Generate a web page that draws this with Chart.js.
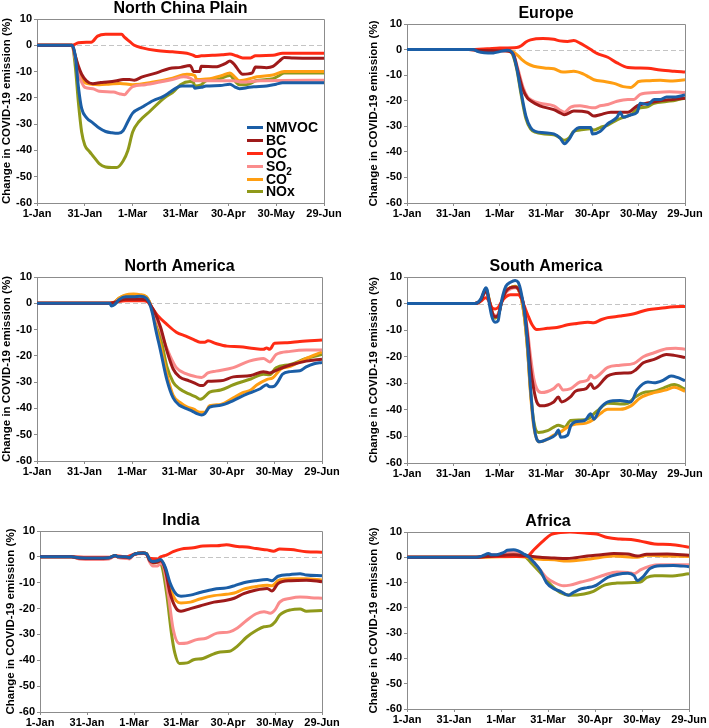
<!DOCTYPE html>
<html>
<head>
<meta charset="utf-8">
<script src="https://cdn.jsdelivr.net/npm/chart.js@4.4.1/dist/chart.umd.min.js"></script>
<style>
  body { margin: 0; background: #fff; width: 709px; height: 728px; position: relative; overflow: hidden; font-family: "Liberation Sans", Arial, sans-serif; }
  canvas { position: absolute; }
  #legend { position: absolute; left: 247px; top: 121px; font-weight: bold; font-size: 14px; color: #000; }
  #legend .row { display: flex; align-items: center; height: 12.9px; line-height: 12.9px; }
  #legend .swatch { width: 16px; height: 3px; margin-right: 3px; }
  #legend sub { font-size: 10px; line-height: 0; vertical-align: -4px; }
</style>
</head>
<body>
<canvas id="c1" width="354" height="228" style="left:0;top:-1px"></canvas>
<canvas id="c2" width="355" height="223" style="left:354px;top:4px"></canvas>
<canvas id="c3" width="354" height="228" style="left:0;top:257px"></canvas>
<canvas id="c4" width="355" height="230" style="left:354px;top:257px"></canvas>
<canvas id="c5" width="354" height="225" style="left:0;top:511px"></canvas>
<canvas id="c6" width="355" height="221" style="left:354px;top:512px"></canvas>
<div id="legend"></div>
<script>
// species and colours
const species = ["NMVOC", "BC", "OC", "SO2", "CO", "NOx"];
const speciesLabels = ["NMVOC", "BC", "OC", "SO<sub>2</sub>", "CO", "NOx"];
const colors = ["#1b5ea6", "#9e1a1a", "#ff2b14", "#fa8c8c", "#ff9e12", "#8f991a"];

// x ticks: day of year 2020 (0 = 1-Jan)
const tickDays = [0, 30, 60, 90, 120, 150, 180];
const tickLabels = ["1-Jan", "31-Jan", "1-Mar", "31-Mar", "30-Apr", "30-May", "29-Jun"];

// ---- North China Plain: [day, % change]
const ncpNMVOC = [[0,0],[22,0],[24,-4],[26,-16],[28,-24],[31,-27.5],[35,-29.5],[39,-31.5],[43,-32.8],[47,-33.3],[51,-33.5],[54,-32.5],[57,-29],[60,-25.8],[66,-23.5],[73,-21],[79,-19.5],[83,-18],[88,-16],[91,-15.5],[98,-15.5],[99,-16.3],[103,-16],[106,-15.5],[115,-15.3],[121,-14.8],[124,-15.8],[127,-16.5],[133,-16],[136,-15.8],[144,-15.5],[150,-14.8],[154,-14.3],[165,-14.3],[180,-14.3]];
const ncpBC = [[0,0],[22,0],[24,-4],[26,-8],[28,-11],[31,-13.5],[35,-14.6],[40,-14.2],[44,-14],[50,-13.5],[54,-13],[58,-13],[61,-13.3],[66,-12],[75,-10.5],[83,-8.8],[90,-8.4],[96,-7.7],[97,-8.5],[98,-10],[102,-10],[103,-8],[112,-8.2],[118,-7],[121,-6],[124,-7.5],[127,-10],[129,-11],[135,-10.5],[137,-8.3],[144,-8.5],[148,-8],[152,-6],[155,-4.6],[161,-4.8],[180,-4.9]];
const ncpOC = [[0,0],[22,0],[26,1],[31,1.2],[34,1.2],[38,3.5],[43,4.2],[53,4.2],[55,3],[58,1.5],[61,0],[66,-1],[75,-2],[85,-2.5],[94,-3],[98,-3.8],[100,-4.3],[103,-4],[110,-3.8],[116,-3.6],[121,-3.3],[125,-4],[129,-4.8],[134,-4.8],[137,-4],[148,-3.8],[154,-3],[180,-3]];
const ncpSO2 = [[0,0],[22,0],[24,-5],[26,-11],[28,-14],[30,-16],[35,-16.5],[39,-17.5],[48,-17.8],[52,-18.5],[55,-18.8],[57,-17.5],[60,-15.7],[68,-15],[77,-14],[85,-13],[92,-12],[96,-12.5],[99,-13.5],[110,-13.5],[123,-13.5],[129,-14],[140,-13.5],[180,-13.3]];
const ncpCO = [[0,0],[22,0],[24,-4],[26,-9],[28,-12.5],[31,-14.5],[39,-15],[46,-14.7],[52,-14.5],[60,-15],[73,-14],[85,-12.5],[94,-11],[99,-11.5],[100,-13],[106,-12.8],[110,-12.5],[116,-11.5],[121,-10.5],[124,-12],[127,-13.5],[135,-12.5],[138,-12],[148,-11.3],[155,-10],[180,-10]];
const ncpNOx = [[0,0],[22,0],[24,-8],[26,-22],[28,-33],[30,-38],[33,-40.5],[35,-42],[39,-45],[43,-46.3],[47,-46.5],[50,-46.5],[54,-44],[57,-40],[60,-33],[64,-29],[71,-25],[77,-21.5],[81,-19.5],[85,-18],[90,-15],[96,-13.8],[98,-14],[99,-15.5],[103,-15],[106,-13.5],[113,-13],[121,-11.5],[124,-13.5],[127,-15],[131,-15],[134,-14.5],[137,-13.5],[148,-12.7],[152,-11.5],[155,-10.5],[180,-10.5]];

// ---- Europe
const euNMVOC = [[0,0],[43,0],[46,-0.8],[50,-1.2],[56,-1.3],[60,-0.8],[65,-0.3],[68,-1],[71,-7],[74,-17],[77,-26],[80,-30.5],[83,-32],[89,-32.5],[95,-33],[99,-34.5],[102,-36.8],[105,-35],[108,-32],[112,-30.5],[119,-30.5],[120,-33],[125,-32],[130,-29],[136,-26.5],[138,-24.5],[140,-26.5],[145,-25.5],[149,-24.5],[151,-21],[156,-21.5],[160,-19.5],[164,-19.5],[168,-18.5],[174,-18.5],[180,-17.8]];
const euBC = [[0,0],[40,0],[45,-0.3],[60,-0.5],[66,-0.7],[69,-2],[72,-9],[75,-15.5],[78,-19],[80,-20],[86,-22],[95,-23.5],[100,-25],[102,-25.5],[108,-24],[117,-24.5],[121,-26],[125,-25.5],[132,-24.5],[143,-24.5],[149,-22],[155,-21],[164,-20],[172,-19.5],[180,-19]];
const euOC = [[0,0],[40,0],[52,0.3],[60,0.6],[71,0.8],[74,1.5],[77,3],[80,3.8],[88,4.3],[95,4],[99,3.4],[104,3.2],[108,3.5],[112,2.5],[115,1.5],[119,0],[123,-1.5],[130,-3],[136,-5.2],[143,-7],[149,-7.2],[156,-7.3],[164,-8],[173,-8.5],[180,-8.8]];
const euSO2 = [[0,0],[60,0],[66,-0.5],[69,-2],[72,-8],[75,-14.5],[78,-18.5],[80,-19.5],[86,-21],[95,-22],[100,-24],[102,-24.5],[106,-22.5],[112,-22],[117,-22.5],[121,-22.8],[125,-22],[130,-21.5],[136,-20.2],[143,-19.5],[147,-19.5],[151,-17.5],[160,-16.8],[170,-16.5],[180,-16.8]];
const euCO = [[0,0],[60,0],[63,-0.2],[66,-0.5],[69,-1],[72,-2.5],[74,-3.7],[78,-5.5],[82,-6.5],[89,-7.2],[95,-7.5],[101,-8.8],[108,-8.5],[114,-9.5],[118,-10.8],[121,-11.8],[128,-12.5],[134,-13.2],[140,-14.5],[145,-14.8],[148,-13.5],[150,-12.5],[156,-12.2],[164,-12],[172,-12.3],[180,-11.8]];
const euNOx = [[0,0],[58,0],[65,-0.3],[68,-1.5],[71,-7.5],[74,-18],[77,-27],[80,-31],[83,-32.3],[89,-33],[95,-33.3],[99,-34.5],[102,-35.5],[105,-34.5],[108,-32],[112,-31.5],[119,-31],[121,-31.5],[125,-30.5],[130,-29.5],[136,-27.5],[140,-26.5],[145,-25.5],[150,-23],[155,-22.5],[160,-21],[168,-20.3],[174,-19.8],[180,-19]];

// ---- North America
const naNMVOC = [[0,0],[46,0],[47,-1],[49,-0.5],[52,1.5],[56,2.5],[61,2.5],[65,2.7],[69,2],[71,0],[73,-4],[75,-10],[78,-18],[82,-29],[86,-36],[90,-38.8],[94,-40],[98,-41],[101,-42],[104,-42.5],[106,-42],[109,-39.5],[116,-38.8],[124,-37],[129,-35.5],[134,-34.2],[141,-32.5],[145,-31],[147,-31.8],[150,-31.5],[152,-30],[155,-27],[160,-26],[166,-25.7],[170,-24.2],[175,-23],[180,-22.5]];
const naBC = [[0,0],[46,0],[49,0.3],[52,1],[56,1.5],[61,1.5],[66,1.5],[70,1],[72,-1],[74,-3],[78,-9],[82,-18],[86,-25],[90,-28],[96,-29.5],[100,-30.5],[103,-31.3],[105,-31.3],[108,-29.7],[116,-29.5],[124,-28],[135,-27.5],[143,-26],[147,-26.5],[151,-25.5],[160,-23.5],[170,-22],[180,-21.3]];
const naOC = [[0,0],[46,0],[50,0.5],[56,1],[62,1],[67,1],[70,0.5],[73,-2],[76,-4.5],[82,-8],[88,-11],[94,-12.5],[99,-13.8],[103,-14.8],[106,-14.8],[108,-14.3],[113,-15.3],[120,-16.3],[128,-16.5],[137,-17.2],[143,-17.5],[145,-17],[147,-17.5],[150,-15.2],[158,-15],[166,-14.5],[180,-14]];
const naSO2 = [[0,0],[46,0],[49,0.3],[52,1.5],[56,2],[61,2],[66,2],[70,1],[72,-1],[75,-5],[78,-10],[80,-14],[84,-20],[88,-24.5],[94,-26.8],[101,-28],[104,-28.2],[108,-26.5],[113,-25.8],[124,-24.5],[134,-22],[143,-21],[147,-22.3],[151,-19.5],[160,-18.3],[170,-17.8],[180,-17.8]];
const naCO = [[0,0],[46,0],[49,0.5],[52,2],[56,3.2],[61,3.5],[65,3.3],[69,2.5],[71,0.5],[73,-3],[75,-9],[78,-16],[82,-27],[86,-35],[91,-38],[95,-39.5],[99,-40.3],[103,-41.5],[106,-41.5],[109,-39],[116,-38.5],[124,-36],[130,-34],[135,-33],[139,-31],[145,-29],[149,-28.3],[154,-25],[160,-24],[170,-21],[180,-18.5]];
const naNOx = [[0,0],[46,0],[49,0.5],[52,2],[56,3],[61,3.2],[65,3],[69,2.5],[71,0.5],[73,-3],[75,-8],[78,-13],[82,-24],[86,-30],[90,-32.5],[96,-34.5],[100,-35.5],[103,-36.5],[105,-36],[109,-33.8],[116,-33],[124,-31],[135,-28.8],[143,-27],[147,-27.2],[151,-24.5],[160,-23.3],[170,-21],[180,-19.5]];

// ---- South America
const saNMVOC = [[0,0],[44,0],[46,0.5],[48,2],[50,5],[51,6],[52,5],[53,1],[55,-5],[57,-7],[59,-6.5],[60,-3],[62,3],[64,6.5],[67,8],[70,8.7],[72,8],[74,4],[76,-3],[78,-15],[80,-32],[82,-45],[84,-51],[86,-52],[91,-51],[96,-49.5],[98,-47.6],[99.5,-50.3],[104,-49.5],[106,-46],[109,-44.5],[115,-44],[119,-41.5],[121,-43.5],[125,-39.5],[130,-37],[138,-36.5],[145,-37],[149,-32.5],[156,-29.5],[160,-29.8],[166,-28.8],[171,-27.3],[175,-27.8],[180,-29]];
const saBC = [[0,0],[44,0],[48,1.5],[50,4],[51,5],[52,4],[55,-3],[57,-5],[59,-4.5],[61,0],[64,4.5],[67,6],[70,6.2],[72,5.5],[74,3],[76,-2],[78,-12],[80,-24],[82,-32],[84,-37],[87,-38.5],[95,-37],[98,-35.2],[100,-37],[106,-35],[109,-33],[116,-32],[119,-30.2],[121,-32],[130,-27.2],[138,-26.2],[145,-26],[148,-25],[153,-22.3],[160,-21],[168,-19.2],[173,-19.5],[180,-20.3]];
const saOC = [[0,0],[44,0],[48,1],[50,2],[51,2.2],[53,1],[55,-1.5],[57,-2],[59,-1.5],[61,0.5],[64,2.5],[67,3.3],[72,3.3],[74,2],[76,-1],[78,-4],[81,-8],[84,-9.8],[91,-9.3],[97,-9],[104,-8],[110,-7.5],[117,-7],[121,-7.2],[126,-6],[130,-5.3],[138,-4.7],[147,-3.8],[156,-2.3],[164,-1.8],[173,-1.2],[180,-1.1]];
const saSO2 = [[0,0],[44,0],[48,1.5],[50,4],[51,4.5],[52,3.5],[55,-3],[57,-4.5],[59,-4],[61,0],[64,4],[67,5.5],[70,6],[72,5.5],[74,3],[76,-2],[78,-10],[80,-20],[82,-28],[84,-32],[87,-33.5],[95,-32],[98,-30.5],[101,-32.5],[106,-32],[112,-29.5],[117,-28.8],[119,-27],[121,-28],[130,-24],[138,-23.2],[147,-22.5],[153,-20],[160,-18.5],[168,-17],[174,-16.8],[180,-17.2]];
const saCO = [[0,0],[44,0],[48,1.5],[50,4.5],[51,5],[52,4],[55,-3],[57,-5],[59,-4.5],[61,0],[64,4.5],[67,6],[70,6.3],[72,5.5],[74,2],[76,-5],[78,-17],[80,-34],[82,-46],[84,-51],[86,-52],[91,-51],[95,-49.5],[99,-48.5],[104,-46.5],[108,-45.5],[116,-45],[121,-43.5],[125,-41.5],[130,-39.8],[138,-39.8],[145,-38.5],[151,-35.5],[160,-33.5],[168,-32.5],[173,-31.5],[180,-33]];
const saNOx = [[0,0],[44,0],[48,1.5],[50,4.5],[51,5.5],[52,4.5],[55,-3],[57,-5.5],[59,-4.5],[61,0],[64,4.5],[67,6],[70,6.5],[72,5.5],[74,2],[76,-5],[78,-17],[80,-33],[82,-44],[85,-48.5],[91,-47.8],[95,-46.5],[98,-45.8],[102,-46.5],[106,-44],[112,-43.8],[117,-43.5],[121,-41.5],[124,-40],[130,-37.5],[138,-37.8],[143,-37.5],[147,-35.5],[153,-33.5],[160,-33],[166,-31.8],[173,-30.5],[180,-32.2]];

// ---- India
const inNMVOC = [[0,0],[20,0],[25,-0.3],[35,-0.4],[44,-0.3],[48,0.5],[50,0],[55,0],[57,-0.3],[60,1],[66,1.5],[68,1.2],[70,-1],[72,-1.8],[75,-1.5],[77,-1],[80,-4],[83,-10],[87,-14.5],[90,-15.2],[96,-14.8],[102,-13.8],[111,-12.5],[119,-12],[124,-11.2],[130,-10],[138,-9.2],[145,-8.8],[148,-9.2],[152,-7.5],[160,-6.8],[166,-6.5],[170,-7],[180,-7.3]];
const inBC = [[0,0],[20,0],[25,-0.5],[35,-0.6],[44,-0.4],[48,0.4],[50,0],[55,-0.2],[57,-0.4],[60,1],[66,1.5],[68,1.2],[70,-1.5],[72,-2.2],[75,-2],[77,-1.5],[80,-5],[83,-14],[87,-20],[90,-21],[96,-20],[102,-19],[111,-17.5],[119,-16.8],[124,-16],[130,-14.2],[138,-12.8],[145,-12.2],[148,-13.2],[152,-10.3],[160,-9.2],[170,-9],[180,-9.6]];
const inOC = [[0,0],[20,0],[30,-0.2],[44,-0.2],[48,0.4],[55,0],[60,1],[66,1.5],[68,1],[70,-0.5],[75,-0.8],[77,0],[81,0.8],[85,2],[90,3],[98,3.5],[104,4.2],[113,4.3],[119,4.7],[126,4],[132,3.8],[138,3.2],[145,2.7],[149,2.2],[153,3],[160,2.8],[170,2],[180,1.8]];
const inSO2 = [[0,0],[20,0],[25,-0.8],[35,-1],[44,-0.8],[48,0.3],[50,-0.3],[55,-0.6],[57,-0.8],[60,0.8],[66,1.3],[68,1],[70,-2],[72,-3.5],[75,-3.5],[77,-2.5],[79,-4],[82,-15],[85,-28],[89,-33.5],[94,-33.3],[100,-32],[106,-31.5],[113,-29.5],[121,-29],[126,-27.5],[132,-24.5],[138,-22],[143,-21.2],[147,-21.8],[150,-20.5],[153,-17.5],[160,-16],[166,-15.5],[173,-15.8],[180,-16]];
const inCO = [[0,0],[20,0],[25,-0.5],[35,-0.6],[44,-0.4],[48,0.4],[50,0],[55,-0.2],[57,-0.4],[60,1],[66,1.5],[68,1.2],[70,-1.2],[72,-2],[75,-2],[77,-1.5],[80,-4.5],[83,-12],[87,-17],[90,-17.8],[96,-17.5],[102,-16.3],[111,-15],[119,-14.5],[124,-14],[130,-12.5],[138,-11.5],[145,-11],[148,-11.2],[152,-9.2],[160,-8.5],[170,-8.5],[180,-9]];
const inNOx = [[0,0],[20,0],[25,-0.4],[35,-0.5],[44,-0.3],[48,0.5],[50,0],[55,-0.2],[57,-0.4],[60,1],[66,1.5],[68,1.2],[70,-1.5],[72,-2.5],[76,-2],[78,-4],[81,-15],[84,-30],[86,-37],[89,-41.2],[94,-41],[98,-39.8],[104,-39.3],[111,-37.5],[115,-36.8],[121,-36.5],[126,-34.5],[132,-31],[138,-28.5],[143,-27],[147,-26.7],[150,-25.2],[153,-22.5],[160,-20.5],[166,-20.2],[170,-21],[180,-20.7]];

// ---- Africa
const afNMVOC = [[0,0],[44,0],[47,0.3],[49,0.8],[52,1.5],[54,1],[57,1],[60,1.5],[62,2],[64,2.8],[68,3],[71,2.5],[74,1.5],[78,0],[81,-2],[85,-5],[89,-10],[94,-12.5],[98,-13.5],[103,-15],[106,-14],[111,-12.5],[115,-12],[119,-11.5],[121,-11],[128,-8],[134,-6.8],[141,-6.3],[145,-7.3],[147,-9.2],[151,-7.5],[155,-4.5],[162,-3.3],[170,-3.2],[180,-3.7]];
const afBC = [[0,0],[44,0],[55,0.5],[62,0.8],[68,1],[77,0.5],[85,0],[94,-0.3],[102,-0.5],[115,0.5],[124,1],[132,1.5],[141,1.3],[147,0.5],[153,1.2],[166,1.3],[180,0.8]];
const afOC = [[0,0],[44,0],[50,0.3],[70,0.3],[77,0.5],[81,3],[87,6.5],[92,9],[98,9.8],[104,10],[115,9.5],[121,9.2],[128,7.8],[136,7.2],[143,7],[149,6.4],[158,5.3],[168,5.1],[180,4]];
const afSO2 = [[0,0],[44,0],[49,0.5],[52,1],[57,1],[62,1.5],[66,2],[70,2],[74,1.3],[78,0],[81,-2],[85,-5],[89,-8],[94,-10],[100,-11.3],[104,-11],[111,-9.8],[119,-8.5],[126,-7],[134,-5.8],[141,-6],[145,-6.5],[149,-5],[155,-3.5],[162,-3],[180,-3]];
const afCO = [[0,0],[44,0],[60,0.2],[70,0.3],[77,0],[85,-0.8],[94,-1],[102,-1.5],[115,-0.8],[124,0],[132,0.5],[147,0],[153,0.8],[166,0.5],[180,0.3]];
const afNOx = [[0,0],[44,0],[50,0.3],[57,0.5],[62,1],[66,1.8],[70,1.5],[75,0.5],[79,-2],[85,-6],[92,-11],[98,-14],[104,-15],[113,-14.5],[119,-13.5],[126,-11],[134,-10.2],[145,-10],[149,-9.8],[153,-8],[158,-7.3],[168,-7.4],[180,-6.5]];

const panelTitles = ["North China Plain", "Europe", "North America", "South America", "India", "Africa"];
const panelSeries = [
  [ncpNMVOC, ncpBC, ncpOC, ncpSO2, ncpCO, ncpNOx],
  [euNMVOC, euBC, euOC, euSO2, euCO, euNOx],
  [naNMVOC, naBC, naOC, naSO2, naCO, naNOx],
  [saNMVOC, saBC, saOC, saSO2, saCO, saNOx],
  [inNMVOC, inBC, inOC, inSO2, inCO, inNOx],
  [afNMVOC, afBC, afOC, afSO2, afCO, afNOx]
];

// layout for each canvas (padding / y-axis width)
const layouts = [
  { pad: { left: 0, right: 30, top: 0, bottom: 4 }, yW: 37 },
  { pad: { left: 13, right: 24, top: 0, bottom: 4 }, yW: 40 },
  { pad: { left: 0, right: 32, top: 0, bottom: 4 }, yW: 37 },
  { pad: { left: 13, right: 24, top: 0, bottom: 4 }, yW: 40 },
  { pad: { left: 4, right: 32, top: 0, bottom: 4 }, yW: 36 },
  { pad: { left: 13, right: 20, top: 0, bottom: 4 }, yW: 40 }
];

Chart.defaults.font.family = '"Liberation Sans", Arial, sans-serif';
Chart.defaults.color = "#000";

// gray frame on top/right and dashed zero line
const framePlugin = {
  id: "frame",
  beforeDatasetsDraw(chart) {
    const { ctx, chartArea: a, scales } = chart;
    ctx.save();
    ctx.strokeStyle = "#c4c4c4";
    ctx.lineWidth = 1;
    ctx.setLineDash([5, 3]);
    const y0 = Math.round(scales.y.getPixelForValue(0)) + 0.5;
    ctx.beginPath();
    ctx.moveTo(a.left, y0);
    ctx.lineTo(a.right, y0);
    ctx.stroke();
    ctx.setLineDash([]);
    ctx.strokeStyle = "#8c8c8c";
    ctx.beginPath();
    ctx.moveTo(a.left, Math.round(a.top) + 0.5);
    ctx.lineTo(Math.round(a.right) + 0.5, Math.round(a.top) + 0.5);
    ctx.lineTo(Math.round(a.right) + 0.5, a.bottom);
    ctx.stroke();
    ctx.restore();
  }
};

function makePanel(idx) {
  const lay = layouts[idx];
  const datasets = panelSeries[idx].map((pts, i) => ({
    label: species[i],
    data: pts.map((p) => ({ x: p[0], y: p[1] })),
    borderColor: colors[i],
    backgroundColor: colors[i],
    borderWidth: 3,
    pointRadius: 0,
    cubicInterpolationMode: "monotone",
    fill: false
  }));

  const ctx = document.getElementById("c" + (idx + 1)).getContext("2d");
  new Chart(ctx, {
    type: "line",
    data: { datasets },
    options: {
      responsive: false,
      animation: false,
      devicePixelRatio: 1,
      layout: { padding: lay.pad },
      plugins: {
        legend: { display: false },
        tooltip: { enabled: false },
        title: {
          display: true,
          text: panelTitles[idx],
          fullSize: false,
          padding: 0,
          font: { size: 16, weight: "bold", lineHeight: "20px" },
          color: "#000"
        }
      },
      scales: {
        x: {
          type: "linear",
          min: 0,
          max: 180,
          afterFit: (s) => { s.height = 20; },
          afterBuildTicks: (s) => { s.ticks = tickDays.map((v) => ({ value: v })); },
          ticks: {
            autoSkip: false,
            maxRotation: 0,
            padding: 1,
            font: { size: 11, weight: "bold" },
            callback: (v) => tickLabels[tickDays.indexOf(v)]
          },
          grid: { drawOnChartArea: false, drawTicks: true, tickLength: 3, color: "#8c8c8c" },
          border: { color: "#8c8c8c" }
        },
        y: {
          min: -60,
          max: 10,
          afterFit: (s) => { s.width = lay.yW; },
          ticks: { stepSize: 10, padding: 2, font: { size: 11, weight: "bold" } },
          grid: { drawOnChartArea: false, drawTicks: true, tickLength: 3, color: "#8c8c8c" },
          border: { color: "#8c8c8c" },
          title: {
            display: true,
            text: "Change in COVID-19 emission (%)",
            padding: 0,
            font: { size: 11.5, weight: "bold" },
            color: "#000"
          }
        }
      }
    },
    plugins: [framePlugin]
  });
}

for (let i = 0; i < 6; i++) makePanel(i);

// legend (first panel)
const legend = document.getElementById("legend");
species.forEach((s, i) => {
  const row = document.createElement("div");
  row.className = "row";
  row.innerHTML = '<span class="swatch" style="background:' + colors[i] + '"></span><span>' + speciesLabels[i] + "</span>";
  legend.appendChild(row);
});
</script>
</body>
</html>
